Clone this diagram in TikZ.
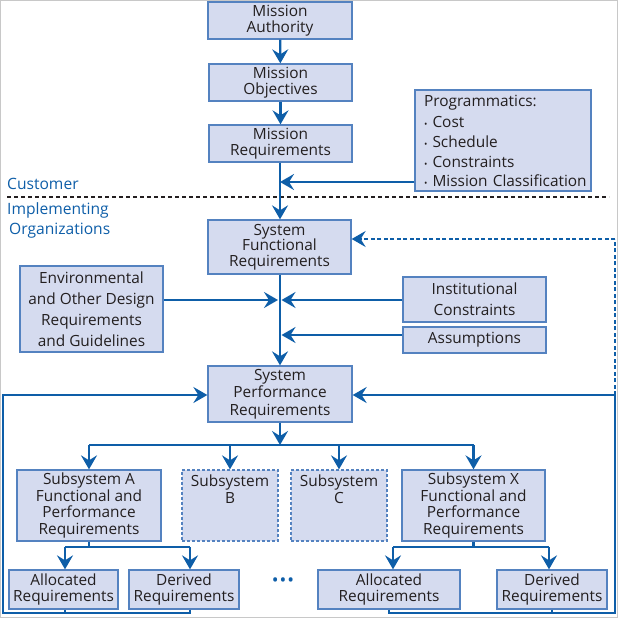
\documentclass[tikz,border=0pt]{standalone}
\usepackage{fontspec}
\setmainfont{Open Sans}
\usetikzlibrary{arrows.meta,calc}
\definecolor{flowblue}{RGB}{14,94,168}
\definecolor{boxedge}{RGB}{84,130,192}
\definecolor{boxfill}{RGB}{213,219,239}
\definecolor{boxtext}{RGB}{35,31,32}
\definecolor{framegray}{RGB}{200,200,200}
\tikzset{
	% ---- default
	every node/.style={font=\fontsize{15.4}{15.5}\selectfont},
	% ---- custom
	block/.style={draw=boxedge, line width=1.3pt, fill=boxfill, text=boxtext,
		align=center, inner sep=0pt},
	ghost block/.style={block, dashed, dash pattern=on 3pt off 2pt},
	link/.style={draw=flowblue, line width=2.2pt},
	flow/.style={link, -{Stealth[length=14pt, width=16pt, inset=5pt]}},
	feedback/.style={draw=flowblue, line width=1.6pt, dash pattern=on 4pt off 2.5pt},
	divider/.style={draw=boxtext, line width=1.3pt, dash pattern=on 4pt off 3pt},
	party/.style={text=flowblue, anchor=base west, inner sep=0pt,
		font=\fontsize{15.6}{16}\selectfont},
}
\newcommand{\progline}[1]{\mbox{\hspace*{9pt}#1}}

\begin{document}
\begin{tikzpicture}[x=1pt, y=-1pt]

% frame %{{{2

	\useasboundingbox (0,0) rectangle (618,618);
	\draw[framegray, line width=1pt] (0.5,0.5) rectangle (617.5,617.5);

% customer chain %{{{2

	\node[block, minimum width=144pt, minimum height=37pt] (MA) at (280,20.5)
		{Mission\\Authority};
	\node[block, minimum width=143pt, minimum height=37pt] (MO) at (280.5,82.5)
		{Mission\\Objectives};
	\node[block, minimum width=143pt, minimum height=37pt] (MR) at (280.5,143.5)
		{Mission\\Requirements};
	\node[block, minimum width=176pt, minimum height=101pt, align=left,
		text width=176pt, inner xsep=0pt, font=\fontsize{15.4}{20}\selectfont]
		(Prog) at (503,140.5)
		{\progline{Programmatics:}\\[1pt]
		 \progline{{\small•} Cost}\\
		 \progline{{\small•} Schedule}\\
		 \progline{{\small•} Constraints}\\[-1pt]
		 \progline{{\small•} Mission Classification}};

% customer / implementing split %{{{2

	\coordinate (splitL) at (7,197);
	\coordinate (splitR) at (609,197);
	\draw[divider] (splitL) -- (splitR);
	\node[party] (cust) at (7,189) {Customer};
	\node[party] (impl) at (7,214) {Implementing};
	\node[party] (orgs) at (9,234) {Organizations};

% system level %{{{2

	\node[block, minimum width=143pt, minimum height=54pt] (SFR) at (279.5,247)
		{System\\Functional\\Requirements};
	\node[block, minimum width=143pt, minimum height=86pt,
		font=\fontsize{15.4}{21}\selectfont] (Env) at (91.5,309)
		{Environmental\\and Other Design\\Requirements\\and Guidelines};
	\node[block, minimum width=143pt, minimum height=45pt,
		font=\fontsize{15.4}{21}\selectfont] (Inst) at (474.5,299.5)
		{Institutional\\Constraints};
	\node[block, minimum width=143pt, minimum height=26pt] (Assume) at (474.5,340)
		{Assumptions};
	\node[block, minimum width=144pt, minimum height=56pt,
		font=\fontsize{15.4}{17.5}\selectfont] (SPR) at (280,394)
		{System\\Performance\\Requirements};

% subsystems %{{{2

	\node[block, minimum width=144pt, minimum height=71pt,
		font=\fontsize{15.4}{16.5}\selectfont] (SubA) at (89,505.5)
		{Subsystem A\\Functional and\\Performance\\Requirements};
	\node[ghost block, minimum width=96pt, minimum height=71pt,
		font=\fontsize{15.4}{16.5}\selectfont] (SubB) at (230,505.5)
		{Subsystem\\B\\\mbox{}\\\mbox{}};
	\node[ghost block, minimum width=96pt, minimum height=71pt,
		font=\fontsize{15.4}{16.5}\selectfont] (SubC) at (339,505.5)
		{Subsystem\\C\\\mbox{}\\\mbox{}};
	\node[block, minimum width=143pt, minimum height=71pt,
		font=\fontsize{15.4}{16.5}\selectfont] (SubX) at (473.5,505.5)
		{Subsystem X\\Functional and\\Performance\\Requirements};

% allocated and derived %{{{2

	\node[block, minimum width=109pt, minimum height=39pt] (AllocA) at (63.5,589.5)
		{Allocated\\Requirements};
	\node[block, minimum width=110pt, minimum height=39pt] (DerivA) at (184,589.5)
		{Derived\\Requirements};
	\node[block, minimum width=142pt, minimum height=39pt] (AllocX) at (389,589.5)
		{Allocated\\Requirements};
	\node[block, minimum width=110pt, minimum height=39pt] (DerivX) at (552,589.5)
		{Derived\\Requirements};
	\node[text=flowblue, font=\fontsize{18}{18}\selectfont] (more) at (283,582)
		{•\kern1pt•\kern1pt•};

% junctions %{{{2

	\coordinate (progJ) at (280,182);
	\coordinate (envJ) at (278,300);
	\coordinate (instJ) at (281.5,300);
	\coordinate (assumeJ) at (281.5,335);
	\coordinate (subJ) at (280,445);
	\coordinate (subJA) at (89,445);
	\coordinate (subJX) at (473.5,445);
	\coordinate (aJ) at (89,547);
	\coordinate (aJL) at (65,547);
	\coordinate (aJR) at (190,547);
	\coordinate (xJ) at (473.5,547);
	\coordinate (xJL) at (393,547);
	\coordinate (xJR) at (549,547);
	\coordinate (loopL) at (3,613);
	\coordinate (loopR) at (615,613);
	\coordinate (loopMid) at (615,395);
	\coordinate (loopTop) at (615,239);

% main chain %{{{2

	\draw[flow] (MA) -- (MO);
	\draw[flow] (MO) -- (MR);
	\draw[flow] (MR.south -| progJ) -- (SFR.north -| progJ);
	\draw[flow] (Prog.west |- progJ) -- (progJ);
	\draw[flow] (SFR.south -| progJ) -- (SPR.north -| progJ);
	\draw[flow] (Env.east |- envJ) -- (envJ);
	\draw[flow] (Inst.west |- instJ) -- (instJ);
	\draw[flow] (Assume.west |- assumeJ) -- (assumeJ);

% fan out %{{{2

	\draw[flow] (SPR.south -| subJ) -- (subJ);
	\draw[link] (subJA) -- (subJX);
	\draw[flow] (subJA) -- (SubA.north);
	\draw[flow] (SubB.north |- subJ) -- (SubB.north);
	\draw[flow] (SubC.north |- subJ) -- (SubC.north);
	\draw[flow] (subJX) -- (SubX.north);

	\draw[link] (SubA.south) -- (aJ);
	\draw[link] (aJL) -- (aJR);
	\draw[flow] (aJL) -- (AllocA.north -| aJL);
	\draw[flow] (aJR) -- (DerivA.north -| aJR);

	\draw[link] (SubX.south) -- (xJ);
	\draw[link] (xJL) -- (xJR);
	\draw[flow] (xJL) -- (AllocX.north -| xJL);
	\draw[flow] (xJR) -- (DerivX.north -| xJR);

% feedback loops %{{{2

	\draw[link] (AllocA.south -| aJL) -- (aJL |- loopL);
	\draw[flow] (DerivA.south -| aJR) -- (aJR |- loopL) -- (loopL)
		-- (loopL |- loopMid) -- (SPR.west |- loopMid);
	\draw[link] (DerivX.south) -- (DerivX.south |- loopR);
	\draw[flow] (AllocX.south) -- (AllocX.south |- loopR) -- (loopR)
		-- (loopMid) -- (SPR.east |- loopMid);
	\draw[feedback] (loopMid) -- (loopTop);
	\draw[feedback, -{Stealth[length=14pt, width=16pt, inset=5pt]}]
		(loopTop) -- (SFR.east |- loopTop);

% closing %{{{2

\end{tikzpicture}
\end{document}
